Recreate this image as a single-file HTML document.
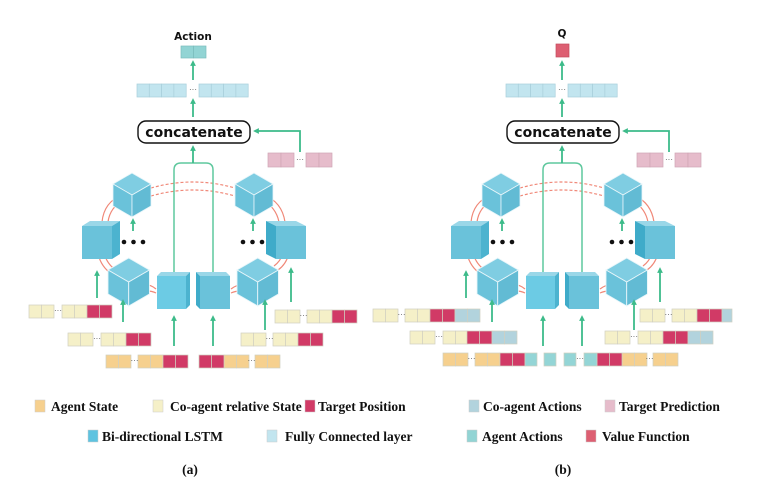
<!DOCTYPE html>
<html><head><meta charset="utf-8"><style>
html,body{margin:0;padding:0;background:#fff;}
svg{display:block;}
.lg{font-family:"Liberation Serif",serif;font-weight:bold;font-size:13.5px;fill:#111;}
.ct{font-family:"DejaVu Sans","Liberation Sans",sans-serif;font-weight:bold;font-size:14px;fill:#111;}
</style></head><body>
<svg width="776" height="502" viewBox="0 0 776 502" xmlns="http://www.w3.org/2000/svg">
<defs>
<marker id="ah" viewBox="0 0 10 10" refX="5" refY="5" markerWidth="3.2" markerHeight="3.2" orient="auto"><path d="M0,0 L10,5 L0,10 z" fill="#3dbb8a"/></marker>
<g id="cube">
<polygon points="19,0 38,11 19,22 0,11" fill="#7fcde2" stroke="#e8f6fa" stroke-width="0.8"/>
<polygon points="0,11 19,22 19,44 0,33" fill="#6ac2da" stroke="#e8f6fa" stroke-width="0.8"/>
<polygon points="19,22 38,11 38,33 19,44" fill="#62bbd4" stroke="#e8f6fa" stroke-width="0.8"/>
</g>
<g id="struct">
<g fill="none" stroke="#f08878" stroke-width="1.2">
<path d="M151,188 Q193,176 235,188" stroke-dasharray="3,2"/>
<path d="M151,196 Q193,184 235,196" stroke-dasharray="3,2"/>
<path d="M122,195 Q104,202 102,222"/><path d="M124,200 Q110,207 108,222"/>
<path d="M96,240 Q97,265 112,274"/><path d="M102,240 Q103,262 116,270"/>
<path d="M137,286 Q148,282 156,289"/><path d="M137,293 Q148,289 156,293"/>
<path d="M231,289 Q240,282 250,286"/><path d="M231,293 Q240,289 250,293"/>
<path d="M278,270 Q290,262 291,240"/><path d="M274,266 Q285,258 285,240"/>
<path d="M264,195 Q282,202 285,222"/><path d="M262,200 Q276,207 279,222"/>
</g>
<path d="M174,272 L174,170 Q174,163 181,163 L206,163 Q213,163 213,170 L213,272" fill="none" stroke="#5fc89e" stroke-width="1.5"/>
<use href="#cube" x="113" y="173"/>
<use href="#cube" x="235" y="173"/>
<g transform="translate(108,258) scale(1.09)"><use href="#cube"/></g>
<g transform="translate(237,258) scale(1.09)"><use href="#cube"/></g>
<polygon points="82,226 90,221 120,221 112,226" fill="#9ad7e8"/>
<rect x="82" y="226" width="30" height="33" fill="#6ac2da"/>
<polygon points="112,226 120,221 120,254 112,259" fill="#4cb3cf"/>
<polygon points="266,221 296,221 306,226 276,226" fill="#9ad7e8"/>
<rect x="276" y="226" width="30" height="33" fill="#6ac2da"/>
<polygon points="266,221 276,226 276,259 266,254" fill="#3fabc9"/>
<polygon points="157,276 161,272 190,272 186,276" fill="#9ad7e8"/>
<rect x="157" y="276" width="29" height="33" fill="#6ccbe4"/>
<polygon points="186,276 190,272 190,305 186,309" fill="#4cb3cf"/>
<polygon points="196,272 226,272 230,276 200,276" fill="#9ad7e8"/>
<rect x="200" y="276" width="30" height="33" fill="#6ac2da"/>
<polygon points="196,272 200,276 200,309 196,305" fill="#3fabc9"/>
<g fill="#111"><circle cx="124" cy="242" r="2.3"/><circle cx="133.5" cy="242" r="2.3"/><circle cx="143" cy="242" r="2.3"/>
<circle cx="243" cy="242" r="2.3"/><circle cx="252.5" cy="242" r="2.3"/><circle cx="262" cy="242" r="2.3"/></g>
<g stroke="#3dbb8a" stroke-width="1.8" fill="none" marker-end="url(#ah)">
<line x1="193" y1="80" x2="193" y2="63"/>
<line x1="193" y1="117" x2="193" y2="101"/>
<line x1="193" y1="163" x2="193" y2="148"/>
<path d="M300,152 L300,131 L256,131"/>
<line x1="133" y1="231" x2="133" y2="221"/>
<line x1="253" y1="231" x2="253" y2="221"/>
<line x1="97" y1="298" x2="97" y2="273"/>
<line x1="123" y1="322" x2="123" y2="302"/>
<line x1="174" y1="346" x2="174" y2="318"/>
<line x1="213" y1="346" x2="213" y2="318"/>
<line x1="265" y1="330" x2="265" y2="302"/>
<line x1="291" y1="302" x2="291" y2="270"/>
</g>
<rect x="138" y="121" width="112" height="22" rx="8" fill="#fff" stroke="#111" stroke-width="1.4"/>
<text x="194" y="137" text-anchor="middle" class="ct">concatenate</text>
<g fill="#c2e5ef" stroke="#a8cfdb" stroke-width="0.7">
<rect x="137" y="84" width="12.3" height="13"/><rect x="149.3" y="84" width="12.3" height="13"/><rect x="161.6" y="84" width="12.3" height="13"/><rect x="173.9" y="84" width="12.3" height="13"/>
<rect x="199" y="84" width="12.3" height="13"/><rect x="211.3" y="84" width="12.3" height="13"/><rect x="223.6" y="84" width="12.3" height="13"/><rect x="235.9" y="84" width="12.3" height="13"/>
</g>
<text x="193" y="92" text-anchor="middle" font-size="8" fill="#555" font-family="Liberation Sans">···</text>
<g fill="#e6bccb" stroke="#cfa5b5" stroke-width="0.7">
<rect x="268" y="153" width="13" height="14"/><rect x="281" y="153" width="13" height="14"/>
<rect x="306" y="153" width="13" height="14"/><rect x="319" y="153" width="13" height="14"/>
</g>
<text x="300" y="162" text-anchor="middle" font-size="8" fill="#555" font-family="Liberation Sans">···</text>
</g>
</defs>

<use href="#struct"/>
<use href="#struct" x="369"/>

<text x="193" y="40" text-anchor="middle" font-family="DejaVu Sans,Liberation Sans,sans-serif" font-weight="bold" font-size="10.5" fill="#111">Action</text>
<rect x="181" y="46" width="12.5" height="12" fill="#92d4d4" stroke="#7bbcbc" stroke-width="0.7"/>
<rect x="193.5" y="46" width="12.5" height="12" fill="#92d4d4" stroke="#7bbcbc" stroke-width="0.7"/>
<text x="562" y="37" text-anchor="middle" font-family="DejaVu Sans,Liberation Sans,sans-serif" font-weight="bold" font-size="10.5" fill="#111">Q</text>
<rect x="556" y="44" width="13" height="13" fill="#dd5f72" stroke="#c24c5e" stroke-width="0.7"/>

<g stroke="#d0cfc0" stroke-width="0.7">
<g fill="#f5f0c8">
<rect x="29" y="305" width="12.5" height="13"/><rect x="41.5" y="305" width="12.5" height="13"/><rect x="62" y="305" width="12.5" height="13"/><rect x="74.5" y="305" width="12.5" height="13"/>
<rect x="68" y="333" width="12.5" height="13"/><rect x="80.5" y="333" width="12.5" height="13"/><rect x="101" y="333" width="12.5" height="13"/><rect x="113.5" y="333" width="12.5" height="13"/>
<rect x="275" y="310" width="12.5" height="13"/><rect x="287.5" y="310" width="12.5" height="13"/><rect x="307" y="310" width="12.5" height="13"/><rect x="319.5" y="310" width="12.5" height="13"/>
<rect x="241" y="333" width="12.5" height="13"/><rect x="253.5" y="333" width="12.5" height="13"/><rect x="273" y="333" width="12.5" height="13"/><rect x="285.5" y="333" width="12.5" height="13"/>
</g>
<g fill="#f6d08e">
<rect x="106" y="355" width="12.5" height="13"/><rect x="118.5" y="355" width="12.5" height="13"/><rect x="138" y="355" width="12.5" height="13"/><rect x="150.5" y="355" width="12.5" height="13"/>
<rect x="224" y="355" width="12.5" height="13"/><rect x="236.5" y="355" width="12.5" height="13"/><rect x="255" y="355" width="12.5" height="13"/><rect x="267.5" y="355" width="12.5" height="13"/>
</g>
<g fill="#d13a66">
<rect x="87" y="305" width="12.5" height="13"/><rect x="99.5" y="305" width="12.5" height="13"/>
<rect x="126" y="333" width="12.5" height="13"/><rect x="138.5" y="333" width="12.5" height="13"/>
<rect x="163" y="355" width="12.5" height="13"/><rect x="175.5" y="355" width="12.5" height="13"/>
<rect x="199" y="355" width="12.5" height="13"/><rect x="211.5" y="355" width="12.5" height="13"/>
<rect x="332" y="310" width="12.5" height="13"/><rect x="344.5" y="310" width="12.5" height="13"/>
<rect x="298" y="333" width="12.5" height="13"/><rect x="310.5" y="333" width="12.5" height="13"/>
</g>
<g fill="#f5f0c8">
<rect x="373" y="309" width="12.5" height="13"/><rect x="385.5" y="309" width="12.5" height="13"/><rect x="405" y="309" width="12.5" height="13"/><rect x="417.5" y="309" width="12.5" height="13"/>
<rect x="410" y="331" width="12.5" height="13"/><rect x="422.5" y="331" width="12.5" height="13"/><rect x="443" y="331" width="12.5" height="13"/><rect x="455.5" y="331" width="12.5" height="13"/>
<rect x="640" y="309" width="12.5" height="13"/><rect x="652.5" y="309" width="12.5" height="13"/><rect x="672" y="309" width="12.5" height="13"/><rect x="684.5" y="309" width="12.5" height="13"/>
<rect x="605" y="331" width="12.5" height="13"/><rect x="617.5" y="331" width="12.5" height="13"/><rect x="638" y="331" width="12.5" height="13"/><rect x="650.5" y="331" width="12.5" height="13"/>
</g>
<g fill="#f6d08e">
<rect x="443" y="353" width="12.5" height="13"/><rect x="455.5" y="353" width="12.5" height="13"/><rect x="475" y="353" width="12.5" height="13"/><rect x="487.5" y="353" width="12.5" height="13"/>
<rect x="622" y="353" width="12.5" height="13"/><rect x="634.5" y="353" width="12.5" height="13"/><rect x="653" y="353" width="12.5" height="13"/><rect x="665.5" y="353" width="12.5" height="13"/>
</g>
<g fill="#d13a66">
<rect x="430" y="309" width="12.5" height="13"/><rect x="442.5" y="309" width="12.5" height="13"/>
<rect x="467" y="331" width="12.5" height="13"/><rect x="479.5" y="331" width="12.5" height="13"/>
<rect x="500" y="353" width="12.5" height="13"/><rect x="512.5" y="353" width="12.5" height="13"/>
<rect x="597" y="353" width="12.5" height="13"/><rect x="609.5" y="353" width="12.5" height="13"/>
<rect x="697" y="309" width="12.5" height="13"/><rect x="709.5" y="309" width="12.5" height="13"/>
<rect x="663" y="331" width="12.5" height="13"/><rect x="675.5" y="331" width="12.5" height="13"/>
</g>
<g fill="#b2d3dd">
<rect x="455" y="309" width="12.5" height="13"/><rect x="467.5" y="309" width="12.5" height="13"/>
<rect x="492" y="331" width="12.5" height="13"/><rect x="504.5" y="331" width="12.5" height="13"/>
<rect x="722" y="309" width="10" height="13"/>
<rect x="688" y="331" width="12.5" height="13"/><rect x="700.5" y="331" width="12.5" height="13"/>
</g>
<g fill="#94d5d6">
<rect x="525" y="353" width="12" height="13"/><rect x="544" y="353" width="12" height="13"/><rect x="564" y="353" width="12" height="13"/><rect x="584" y="353" width="13" height="13"/>
</g>
</g>
<g font-family="Liberation Sans" font-size="8" fill="#555" text-anchor="middle">
<text x="58" y="313">···</text><text x="97" y="341">···</text><text x="134.5" y="363">···</text><text x="251.5" y="363">···</text><text x="303.5" y="318">···</text><text x="269.5" y="341">···</text>
<text x="401.5" y="317">···</text><text x="439" y="339">···</text><text x="471.5" y="361">···</text><text x="580" y="361">···</text><text x="649.5" y="361">···</text><text x="668.5" y="317">···</text><text x="634" y="339">···</text>
</g>

<g stroke="#ccc" stroke-width="0.5">
<rect x="35" y="400" width="10" height="12" fill="#f6d08e"/>
<rect x="153" y="400" width="10" height="12" fill="#f5f0c8"/>
<rect x="305" y="400" width="10" height="12" fill="#d13a66"/>
<rect x="469" y="400" width="10" height="12" fill="#b2d3dd"/>
<rect x="605" y="400" width="10" height="12" fill="#e6bccb"/>
<rect x="88" y="430" width="10" height="12" fill="#5ec3e0"/>
<rect x="267" y="430" width="10" height="12" fill="#c2e5ef"/>
<rect x="467" y="430" width="10" height="12" fill="#92d4d4"/>
<rect x="586" y="430" width="10" height="12" fill="#dd5f72"/>
</g>
<text class="lg" x="51" y="411">Agent State</text>
<text class="lg" x="170" y="411">Co-agent relative State</text>
<text class="lg" x="318" y="411">Target Position</text>
<text class="lg" x="483" y="411">Co-agent Actions</text>
<text class="lg" x="619" y="411">Target Prediction</text>
<text class="lg" x="102" y="441">Bi-directional LSTM</text>
<text class="lg" x="285" y="441">Fully Connected layer</text>
<text class="lg" x="482" y="441">Agent Actions</text>
<text class="lg" x="602" y="441">Value Function</text>
<text class="lg" x="190" y="474" text-anchor="middle" font-size="17">(a)</text>
<text class="lg" x="563" y="474" text-anchor="middle" font-size="17">(b)</text>
</svg>
</body></html>
